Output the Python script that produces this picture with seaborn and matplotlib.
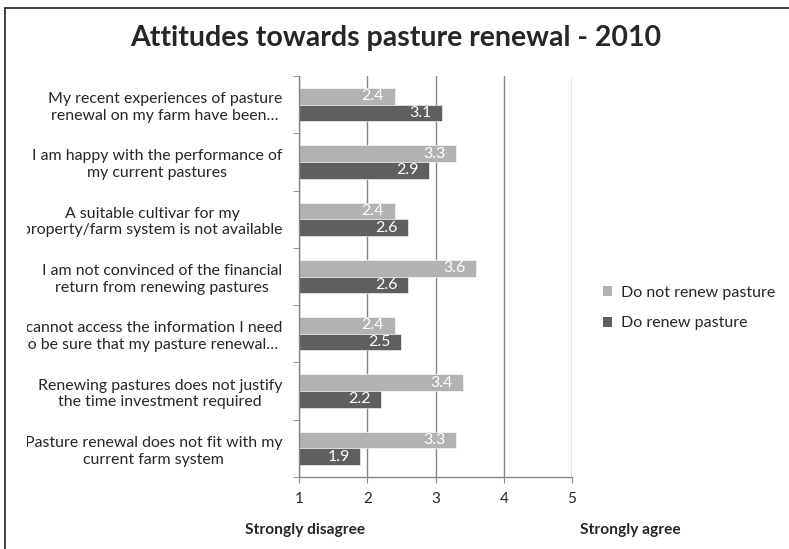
import matplotlib
matplotlib.use("Agg")
import matplotlib.pyplot as plt
from matplotlib.transforms import Bbox, TransformedBbox
from matplotlib.patches import Patch
from matplotlib.lines import Line2D
import seaborn as sns
import pandas as pd

statements = [
    "My recent experiences of pasture\nrenewal on my farm have been…",
    "I am happy with the performance of\nmy current pastures",
    "A suitable cultivar for my\nproperty/farm system is not available",
    "I am not convinced of the financial\nreturn from renewing pastures",
    "I cannot access the information I need\nto be sure that my pasture renewal…",
    "Renewing pastures does not justify\nthe time investment required",
    "Pasture renewal does not fit with my\ncurrent farm system",
]
series_names = ["Do not renew pasture", "Do renew pasture"]
do_not_renew = [2.4, 3.3, 2.4, 3.6, 2.4, 3.4, 3.3]
do_renew = [3.1, 2.9, 2.6, 2.6, 2.5, 2.2, 1.9]
x_ticks = [1, 2, 3, 4, 5]
title = "Attitudes towards pasture renewal - 2010"
left_note = "Strongly disagree"
right_note = "Strongly agree"

colors = ["#B2B2B2", "#5F5F5F"]
grid_col = "#868686"

sns.set_style("white")
plt.rcParams["font.family"] = ["Lato", "DejaVu Sans"]

df = pd.DataFrame({
    "statement": statements * 2,
    "group": [series_names[0]] * len(statements) + [series_names[1]] * len(statements),
    "score": do_not_renew + do_renew,
})

W, H = 789, 549
fig = plt.figure(figsize=(W / 100, H / 100), dpi=100)
ax = fig.add_axes([299 / W, 1 - 477 / H, (572 - 299) / W, (477 - 76) / H])

sns.barplot(data=df, y="statement", x="score", hue="group", orient="h",
            palette=colors, saturation=1, width=0.58, ax=ax,
            edgecolor="white", linewidth=0.4, legend=False)

ax.set_xlim(1, 5)
ax.set_xticks(x_ticks)
ax.set_xticklabels([str(t) for t in x_ticks], fontsize=11)
ax.set_xlabel("")
ax.set_ylabel("")
ax.set_axisbelow(True)
ax.grid(axis="x", color=grid_col, linewidth=1)
ax.grid(axis="y", visible=False)

for s in ["top", "right"]:
    ax.spines[s].set_visible(False)
for s in ["left", "bottom"]:
    ax.spines[s].set_color(grid_col)
    ax.spines[s].set_linewidth(1)

n = len(statements)
ax.set_yticks([i - 0.5 for i in range(n + 1)], minor=True)
ax.tick_params(axis="y", which="minor", length=4, color=grid_col, direction="out", left=True)
ax.tick_params(axis="y", which="major", length=0, pad=12, labelsize=11.4)
ax.tick_params(axis="x", which="major", length=4, color=grid_col, direction="out", pad=7, bottom=True)
ax.set_ylim(n - 0.5, -0.5)

for lab in ax.get_yticklabels():
    lab.set_multialignment("center")
    lab.set_linespacing(1.25)

for cont in ax.containers:
    texts = ax.bar_label(cont, fmt="%.1f", padding=-7.5, color="white", fontsize=11.5)
    for t in texts:
        t.set_ha("right")

# clip category labels at the chart's label area, as in the original
clip = TransformedBbox(Bbox([[27 / W, 0], [1, 1]]), fig.transFigure)
for lab in ax.get_yticklabels():
    lab.set_clip_on(True)
    lab.set_clip_box(clip)

handles = [Patch(facecolor=c, edgecolor="none") for c in colors]
fig.legend(handles, series_names, loc="center left", bbox_to_anchor=(589 / W, 1 - 308 / H),
           frameon=False, fontsize=11.5, handlelength=0.55, handleheight=0.55,
           handletextpad=0.55, labelspacing=1.05)

fig.text(396 / W, 1 - 38 / H, title, ha="center", va="center", fontsize=20.5, fontweight="bold")
fig.text(305 / W, 1 - 530 / H, left_note, ha="center", va="center", fontsize=11.2, fontweight="bold")
fig.text(630 / W, 1 - 530 / H, right_note, ha="center", va="center", fontsize=11.2, fontweight="bold")

# partial chart-area border (top and left edges visible in the crop)
fig.add_artist(Line2D([5 / W, 5 / W], [0, 1 - 8 / H], transform=fig.transFigure, color="#222222", linewidth=1.2))
fig.add_artist(Line2D([5 / W, 1], [1 - 8 / H, 1 - 8 / H], transform=fig.transFigure, color="#222222", linewidth=1.2))

fig.savefig("out.png", dpi=100)
